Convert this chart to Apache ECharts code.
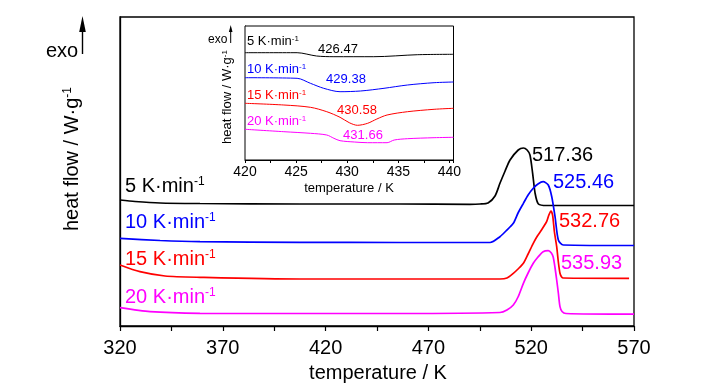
<!DOCTYPE html>
<html><head><meta charset="utf-8">
<script src="https://cdn.jsdelivr.net/npm/echarts@6/dist/echarts.min.js"></script>
<style>html,body{margin:0;padding:0;background:#fff}#c{width:721px;height:387px}</style>
</head><body><div id="c"></div>
<script>
// ---- main DSC curves (temperature / K , heat flow in arbitrary offset units) ----
const tempTicksMain = [320, 370, 420, 470, 520, 570];
const t5  = [320,327.3,339.5,358.9,407.5,456.2,490.2,495.1,499,502.4,504.8,507.3,509.7,513.7,516.2,518,519.4,520.7,521.9,523.5,527.5,570];
const hf5 = [126,124.5,123,122.5,122,122,121.7,122,123,130,142.7,155,166,176,178,176,171,152.7,132.7,122,120.5,120.5];
const t10  = [320,339.5,358.9,407.5,456.2,500,504.8,507.7,511.3,513.6,516.2,518.5,521,523.3,525.8,528.3,530,531.6,533.2,535.6,570];
const hf10 = [87.7,85.5,84.3,83.7,83.5,83.5,89.3,95,102.7,113,122.7,131,137.7,142,144.3,141,129.3,109.3,86,81,80.5];
const t15  = [320,329.7,341.9,358.9,407.5,456.2,504.8,508.2,511.3,513.6,516.2,518.5,521,523,525,527.5,528.6,529.6,530.4,531.3,532.4,533.2,534,534.8,535.6,567.6];
const hf15 = [61,54.3,50,48.7,47,47,47,48,52.7,57,62.7,72,82.7,90,96,104.3,111,115,111,94,79.3,64,52.7,49,48,47.7];
const t20  = [320,334.6,358.9,407.5,456.2,504.8,508.2,511.3,513.6,516.2,518.5,521,523.3,525.8,528.3,529.8,530.7,531.6,532.4,533.2,534,535,536.9,570];
const hf20 = [18.3,14.3,12.7,12.5,12.5,13.5,16,21,29,42.7,53,62.7,69,74.3,75.3,73,69,58,46,33,19.3,14.5,12.5,11.8];
// ---- inset curves ----
const tempTicksInset = [420, 425, 430, 435, 440];
const it5  = [420,425.1,427.0,428.7,432.6,436.9,440.4];
const ih5  = [107.3,107.3,104,103.3,103.3,105.3,105.7];
const it10 = [420,425.1,426.4,427.7,429.3,431.3,433.6,435.9,438.5,440.4];
const ih10 = [82.3,81.7,76.7,71.7,68.3,69,71.7,75,77.3,78];
const it15 = [420,423.8,426.4,428.0,429.3,430.2,431.0,432.0,432.9,433.9,435.9,438.5,440.4];
const ih15 = [56.7,55,52.7,48.3,42.7,37.3,34.7,36.7,41,45,48.3,50.7,51.7];
const it20 = [420,423.8,426.4,428.0,428.7,429.3,430.7,432.0,433.9,434.6,435.9,438.5,440.4];
const ih20 = [30.7,28.3,26.7,25,21.7,19.3,18,17.3,17.3,20,21.3,22.3,22.7];

const rates = ['5', '10', '15', '20'];
const colors = ['#000000', '#0000ff', '#ff0000', '#ff00ff'];
const peakMain = ['517.36', '525.46', '532.76', '535.93'];
const peakInset = ['426.47', '429.38', '430.58', '431.66'];

const FONT = "'Liberation Sans', Arial, Helvetica, sans-serif";
const zip = (a, b) => a.map((v, i) => [v, b[i]]);

const mainSets = [[t5, hf5], [t10, hf10], [t15, hf15], [t20, hf20]];
const insetSets = [[it5, ih5], [it10, ih10], [it15, ih15], [it20, ih20]];

const series = [];
mainSets.forEach((s, i) => series.push({
  type: 'line', xAxisIndex: 0, yAxisIndex: 0, data: zip(s[0], s[1]),
  showSymbol: false, smooth: 0.25, lineStyle: {color: colors[i], width: 1.7}, z: 3
}));
insetSets.forEach((s, i) => series.push({
  type: 'line', xAxisIndex: 1, yAxisIndex: 1, data: zip(s[0], s[1]),
  showSymbol: false, smooth: 0.3, lineStyle: {color: colors[i], width: 1}, z: 3
}));

function rateLabel(i, x, y, fs, sfs) {
  return {
    type: 'text', x: x, y: y, z: 10,
    style: {
      text: '{b|' + rates[i] + ' K·min}{s|-1}', fill: colors[i],
      verticalAlign: 'middle', align: 'left',
      rich: {
        b: {fontSize: fs, fontFamily: FONT, fill: colors[i], color: colors[i]},
        s: {fontSize: sfs, fontFamily: FONT, fill: colors[i], color: colors[i], verticalAlign: 'top'}
      }
    }
  };
}
function plainText(t, x, y, fs, col, align, rot) {
  return {type: 'text', x: x, y: y, z: 10, rotation: rot || 0,
    style: {text: t, fill: col, font: fs + 'px ' + FONT, align: align || 'left', verticalAlign: 'middle'}};
}
function yName(x, y, fs, sfs) {
  return {type: 'text', x: x, y: y, z: 10, rotation: Math.PI / 2,
    style: {text: '{b|heat flow / W·g}{s|-1}', align: 'center', verticalAlign: 'middle', fill: '#000',
      rich: {b: {fontSize: fs, fontFamily: FONT, fill: '#000', color: '#000'},
             s: {fontSize: sfs, fontFamily: FONT, fill: '#000', color: '#000', verticalAlign: 'top'}}}};
}
function arrow(x, y0, y1, hw, hl, lw) {
  return [
    {type: 'line', z: 10, shape: {x1: x, y1: y0, x2: x, y2: y1 + hl - 1}, style: {stroke: '#000', lineWidth: lw}},
    {type: 'polygon', z: 10, shape: {points: [[x, y1], [x - hw, y1 + hl], [x + hw, y1 + hl]]}, style: {fill: '#000'}}
  ];
}

const graphic = [];
// main curve labels
const mainLabY = [186, 222, 259, 297];
mainLabY.forEach((y, i) => graphic.push(rateLabel(i, 125, y, 20, 12)));
const peakMainPos = [[532, 155], [553, 182], [559, 221], [561, 263]];
peakMainPos.forEach((p, i) => graphic.push(plainText(peakMain[i], p[0], p[1], 20, colors[i])));
// inset labels
const insetLabY = [41, 69.5, 95, 121.5];
insetLabY.forEach((y, i) => graphic.push(rateLabel(i, 247, y, 13, 8)));
const peakInsetPos = [[338, 49], [346, 79.5], [357, 110], [363, 135]];
peakInsetPos.forEach((p, i) => graphic.push(plainText(peakInset[i], p[0], p[1], 13, colors[i], 'center')));
// axis names
graphic.push(plainText('temperature / K', 378, 373, 20, '#000', 'center'));
graphic.push(plainText('temperature / K', 349, 188, 13, '#000', 'center'));
graphic.push(yName(72, 159, 20, 12));
graphic.push(yName(227, 97, 13, 8));
// exo markers
graphic.push(plainText('exo', 46, 51, 20, '#000'));
arrow(82.5, 54, 16, 3.3, 16, 1.4).forEach(g => graphic.push(g));
graphic.push(plainText('exo', 208, 39.5, 12, '#000'));
arrow(230.7, 43, 25, 1.8, 7, 1).forEach(g => graphic.push(g));

const chart = echarts.init(document.getElementById('c'), null, {renderer: 'canvas'});
chart.setOption({
  animation: false,
  backgroundColor: '#ffffff',
  grid: [
    {left: 120, top: 17, width: 514, height: 309, show: true, borderColor: '#000', borderWidth: 1.3, backgroundColor: 'transparent'},
    {left: 245, top: 26, width: 208.5, height: 134, show: true, borderColor: '#000', borderWidth: 1, backgroundColor: '#fff', z: 2}
  ],
  xAxis: [
    {type: 'value', gridIndex: 0, min: tempTicksMain[0], max: tempTicksMain[tempTicksMain.length - 1], interval: 50,
      axisLine: {lineStyle: {color: '#000', width: 1.3}}, splitLine: {show: false},
      axisTick: {inside: false, length: 5, lineStyle: {color: '#000', width: 1.2}},
      minorTick: {show: true, splitNumber: 2, length: 5, lineStyle: {color: '#000', width: 1.2}},
      axisLabel: {fontSize: 20, fontFamily: FONT, color: '#000', margin: 12}},
    {type: 'value', gridIndex: 1, min: tempTicksInset[0], max: 440.4, interval: 5,
      axisLine: {lineStyle: {color: '#000', width: 1}}, splitLine: {show: false},
      axisTick: {inside: false, length: 3, lineStyle: {color: '#000', width: 1}},
      minorTick: {show: true, splitNumber: 2, length: 3, lineStyle: {color: '#000', width: 1}},
      axisLabel: {fontSize: 14, fontFamily: FONT, color: '#000', margin: 5, showMaxLabel: false}}
  ],
  yAxis: [
    {type: 'value', gridIndex: 0, min: 0, max: 309, axisLine: {show: true, lineStyle: {color: '#000', width: 1.3}},
      axisTick: {show: false}, axisLabel: {show: false}, splitLine: {show: false}},
    {type: 'value', gridIndex: 1, min: 0, max: 134, axisLine: {show: true, lineStyle: {color: '#000', width: 1}},
      axisTick: {show: false}, axisLabel: {show: false}, splitLine: {show: false}}
  ],
  series: series,
  graphic: graphic
});
</script></body></html>
